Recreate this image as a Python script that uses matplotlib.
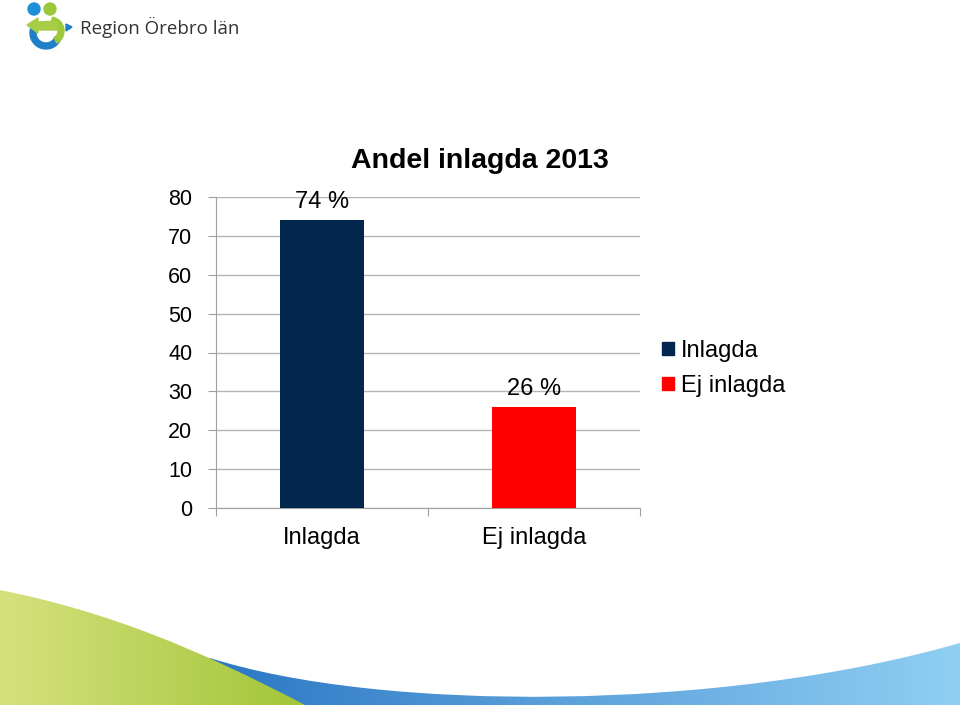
import numpy as np
import matplotlib
matplotlib.use('Agg')
from matplotlib import pyplot as plt
from matplotlib.path import Path
from matplotlib.patches import PathPatch, Patch, Circle, Wedge, Polygon
from matplotlib.colors import LinearSegmentedColormap

categories = ['Inlagda', 'Ej inlagda']
values     = [74, 26]
bar_labels = ['74 %', '26 %']
colors     = ['#03264f', '#ff0000']
yticks     = [0, 10, 20, 30, 40, 50, 60, 70, 80]
title      = 'Andel inlagda 2013'

plt.rcParams['font.family'] = ['Liberation Sans', 'DejaVu Sans']

fig = plt.figure(figsize=(9.6, 7.05), dpi=100)

# background decoration in pixel coordinates (y down)
bg = fig.add_axes([0, 0, 1, 1], zorder=0)
bg.set_xlim(0, 960)
bg.set_ylim(705, 0)
bg.axis('off')


def gradient_fill(ax, verts, codes, c1, c2, x0, x1, y0, y1):
    patch = PathPatch(Path(verts, codes), facecolor='none', edgecolor='none')
    ax.add_patch(patch)
    cmap = LinearSegmentedColormap.from_list('g', [c1, c2])
    grad = np.linspace(0, 1, 256).reshape(1, -1)
    im = ax.imshow(grad, cmap=cmap, extent=(x0, x1, y1, y0), aspect='auto',
                   interpolation='bilinear')
    im.set_clip_path(patch)


C = Path.CURVE4
blue_verts = [(210, 658), (380, 712), (720, 712), (960, 643), (960, 705), (210, 705), (210, 658)]
blue_codes = [Path.MOVETO, C, C, C, Path.LINETO, Path.LINETO, Path.CLOSEPOLY]
gradient_fill(bg, blue_verts, blue_codes, '#2a76c4', '#90cff3', 200, 960, 640, 705)

green_verts = [(0, 590), (110, 612), (200, 650), (305, 705), (0, 705), (0, 590)]
green_codes = [Path.MOVETO, C, C, C, Path.LINETO, Path.CLOSEPOLY]
gradient_fill(bg, green_verts, green_codes, '#d6e17e', '#a2c538', 0, 305, 585, 705)

# logo
bg.add_patch(Circle((34, 9), 6, color='#1f8fd6'))
bg.add_patch(Circle((50, 9), 6, color='#9cc83b'))
bg.add_patch(Wedge((46, 33), 16, 20, 200, width=6, color='#1f7fc8'))
bg.add_patch(Wedge((50, 31), 14, 280, 420, width=6, color='#9cc83b'))
bg.add_patch(Polygon([(27, 25), (38, 18), (38, 22), (57, 21), (58, 30), (38, 30), (38, 33)],
                     color='#a6cd45'))
bg.add_patch(Polygon([(66, 24), (72, 27), (66, 31)], color='#1f7fc8'))
bg.text(80, 27, 'Region Örebro län', fontsize=13.5, family=['Open Sans', 'DejaVu Sans'],
        color='#333333', va='center', ha='left')

# chart
ax = fig.add_axes([216 / 960, 1 - 508 / 705, 424 / 960, 311 / 705], zorder=1)
ax.patch.set_alpha(0)
x = np.arange(len(categories))
bars = ax.bar(x, values, width=0.4, color=colors, zorder=3)
for b, lab in zip(bars, bar_labels):
    ax.annotate(lab, (b.get_x() + b.get_width() / 2, b.get_height()),
                xytext=(0, 5), textcoords='offset points', ha='center', va='bottom',
                fontsize=17)

ax.set_xlim(-0.5, len(categories) - 0.5)
ax.set_ylim(0, 80)
ax.set_yticks(yticks)
ax.set_yticklabels([str(v) for v in yticks], fontsize=15.5)
ax.set_xticks(np.arange(len(categories) + 1) - 0.5)
ax.set_xticklabels([])
ax.set_xticks(x, minor=True)
ax.set_xticklabels(categories, minor=True, fontsize=17)
ax.tick_params(axis='x', which='minor', length=0, pad=14)
ax.tick_params(axis='x', which='major', length=6, color='#a0a0a0')
ax.tick_params(axis='y', length=6, color='#a0a0a0', pad=11)
ax.yaxis.grid(True, color='#b5b5b5', linewidth=1, zorder=0)
for s in ['top', 'right']:
    ax.spines[s].set_visible(False)
for s in ['left', 'bottom']:
    ax.spines[s].set_color('#a0a0a0')
ax.set_axisbelow(True)

fig.text(480 / 960, 1 - 168 / 705, title, fontsize=20.5, fontweight='bold',
         ha='center', va='baseline')

handles = [Patch(color=c) for c in colors]
fig.legend(handles, categories, loc='upper left',
           bbox_to_anchor=(662 / 960, 1 - 340 / 705), frameon=False, fontsize=17,
           handlelength=0.5, handleheight=0.5, handletextpad=0.3,
           labelspacing=0.55, borderpad=0, borderaxespad=0)

fig.savefig('out.png', dpi=100)
